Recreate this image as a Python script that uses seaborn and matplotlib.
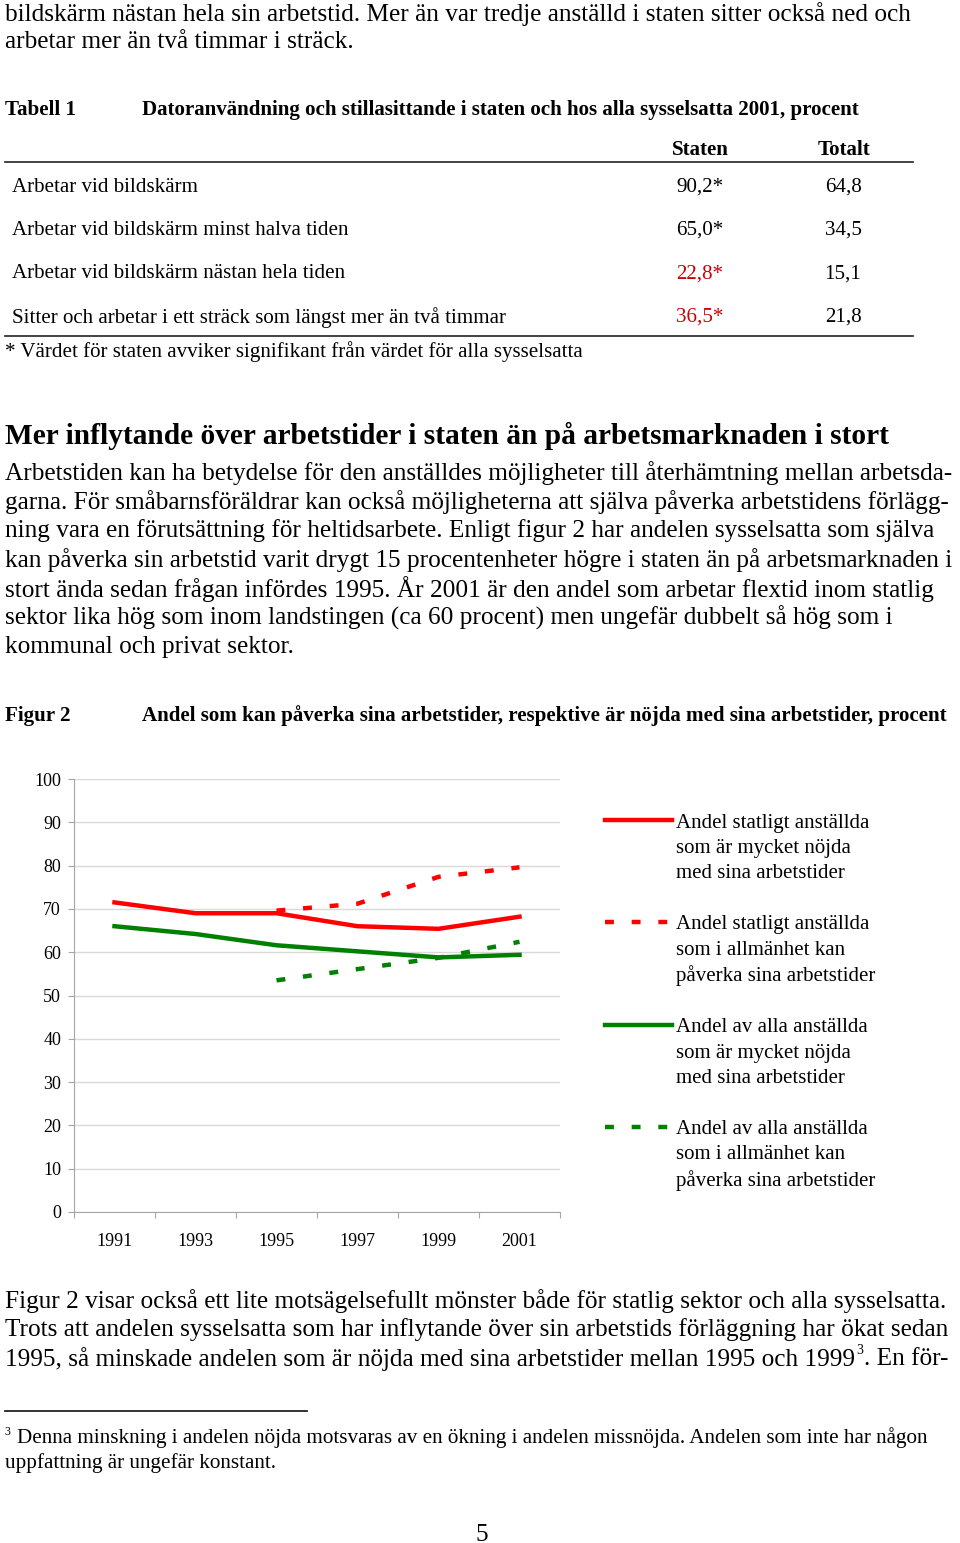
import numpy as np
import pandas as pd
import matplotlib
matplotlib.use("Agg")
import matplotlib.pyplot as plt
import seaborn as sns
from matplotlib.lines import Line2D

# figure 2 data (procent)
years = ["1991", "1993", "1995", "1997", "1999", "2001"]
staten_nojda = [71.5, 69.0, 69.0, 66.0, 65.4, 68.2]
staten_paverka = [np.nan, np.nan, 69.6, 71.2, 77.4, 79.6]
alla_nojda = [66.0, 64.2, 61.6, 60.2, 58.8, 59.4]
alla_paverka = [np.nan, np.nan, 53.5, 56.1, 58.7, 62.4]
series_names = [
    "Andel statligt anställda\nsom är mycket nöjda\nmed sina arbetstider",
    "Andel statligt anställda\nsom i allmänhet kan\npåverka sina arbetstider",
    "Andel av alla anställda\nsom är mycket nöjda\nmed sina arbetstider",
    "Andel av alla anställda\nsom i allmänhet kan\npåverka sina arbetstider",
]

# table 1 data
table_rows = ["Arbetar vid bildskärm",
              "Arbetar vid bildskärm minst halva tiden",
              "Arbetar vid bildskärm nästan hela tiden",
              "Sitter och arbetar i ett sträck som längst mer än två timmar"]
table_staten = ["90,2*", "65,0*", "22,8*", "36,5*"]
table_totalt = ["64,8", "34,5", "15,1", "21,8"]
staten_red = [False, False, True, True]

SERIF = "Liberation Serif"
plt.rcParams["font.family"] = SERIF
W, H = 960, 1543
fig = plt.figure(figsize=(W / 100, H / 100), dpi=100)
r = fig.canvas.get_renderer()

BODY = 18.2
TAB = 15.1
TITLE = 15.1
FOOT = 15.2


def put(x, y, s, size, bold=False, color="black", ha="left"):
    y = y + 2
    return fig.text(x / W, 1 - y / H, s, fontsize=size, color=color, ha=ha, va="center",
                    fontweight="bold" if bold else "normal", family=SERIF)


def rule(x0, x1, y, lw=1.2, color="#222222"):
    fig.add_artist(Line2D([x0 / W, x1 / W], [1 - y / H] * 2, transform=fig.transFigure,
                          color=color, lw=lw))


# text above table
put(5, 12, "bildskärm nästan hela sin arbetstid. Mer än var tredje anställd i staten sitter också ned och", BODY)
put(5, 40, "arbetar mer än två timmar i sträck.", BODY)

# table 1
put(5, 108, "Tabell 1", TITLE, bold=True)
put(142, 108, "Datoranvändning och stillasittande i staten och hos alla sysselsatta 2001, procent", TITLE, bold=True)
put(700, 148, "Staten", TAB, bold=True, ha="center")
put(844, 148, "Totalt", TAB, bold=True, ha="center")
rule(5, 913, 162)
for i, (lab, s, t, red) in enumerate(zip(table_rows, table_staten, table_totalt, staten_red)):
    y = 185 + i * 43.4
    put(12, y, lab, TAB)
    put(700, y, s, TAB, color="#cc0000" if red else "black", ha="center")
    put(843, y, t, TAB, ha="center")
rule(5, 913, 336)
put(5, 350, "* Värdet för staten avviker signifikant från värdet för alla sysselsatta", TAB)

# section
put(5, 434, "Mer inflytande över arbetstider i staten än på arbetsmarknaden i stort", 21.2, bold=True)
body = ["Arbetstiden kan ha betydelse för den anställdes möjligheter till återhämtning mellan arbetsda-",
        "garna. För småbarnsföräldrar kan också möjligheterna att själva påverka arbetstidens förlägg-",
        "ning vara en förutsättning för heltidsarbete. Enligt figur 2 har andelen sysselsatta som själva",
        "kan påverka sin arbetstid varit drygt 15 procentenheter högre i staten än på arbetsmarknaden i",
        "stort ända sedan frågan infördes 1995. År 2001 är den andel som arbetar flextid inom statlig",
        "sektor lika hög som inom landstingen (ca 60 procent) men ungefär dubbelt så hög som i",
        "kommunal och privat sektor."]
for i, s in enumerate(body):
    put(5, 471 + i * 29, s, BODY)

# figure 2
put(5, 714, "Figur 2", TITLE, bold=True)
put(142, 714, "Andel som kan påverka sina arbetstider, respektive är nöjda med sina arbetstider, procent", TITLE, bold=True)

ax = fig.add_axes([74 / W, 1 - 1212 / H, (560 - 74) / W, (1212 - 779) / H])
keys = ["sn", "sp", "an", "ap"]
df = pd.DataFrame({
    "pos": list(range(len(years))) * 4,
    "value": staten_nojda + staten_paverka + alla_nojda + alla_paverka,
    "serie": [k for k in keys for _ in years],
})
palette = {"sn": "#ff0000", "sp": "#ff0000", "an": "#008000", "ap": "#008000"}
dashes = {"sn": "", "sp": (2, 4), "an": "", "ap": (2, 4)}
sns.lineplot(data=df, x="pos", y="value", hue="serie", style="serie", palette=palette,
             dashes=dashes, linewidth=3.2, errorbar=None, legend=False, ax=ax)
ax.set_xlim(-0.5, 5.5)
ax.set_ylim(0, 100)
ax.set_xticks(np.arange(-0.5, 6, 1))
ax.set_xticklabels([])
ax.set_xticks(range(len(years)), minor=True)
ax.set_xticklabels(years, minor=True)
ax.set_yticks(range(0, 101, 10))
ax.tick_params(axis="x", which="major", length=4.3, color="#a6a6a6", width=0.8)
ax.tick_params(axis="x", which="minor", length=0, pad=15, labelsize=13)
ax.tick_params(axis="y", length=4.3, color="#a6a6a6", width=0.8, pad=5, labelsize=13)
ax.grid(axis="y", color="#d9d9d9", lw=1)
ax.set_axisbelow(True)
for s in ["top", "right"]:
    ax.spines[s].set_visible(False)
for s in ["left", "bottom"]:
    ax.spines[s].set_color("#a6a6a6")
    ax.spines[s].set_linewidth(0.8)
ax.set_xlabel("")
ax.set_ylabel("")

# legend, one entry per text line so the sample sits at the first line
handles, labels = [], []
for k, name in zip(keys, series_names):
    for j, part in enumerate(name.split("\n")):
        if j == 0:
            handles.append(Line2D([], [], color=palette[k], lw=3.2,
                                  dashes=dashes[k] if dashes[k] else (None, None)))
        else:
            handles.append(Line2D([], [], color="none"))
        labels.append(part)
    handles.append(Line2D([], [], color="none"))
    labels.append(" ")
handles, labels = handles[:-1], labels[:-1]
LEG = 15
fpx = LEG * 100 / 72
fig.legend(handles, labels, loc="upper left", bbox_to_anchor=(605 / W, 1 - 813 / H),
           frameon=False, fontsize=LEG, handlelength=67 / fpx, handletextpad=4 / fpx,
           borderpad=0, borderaxespad=0, labelspacing=0.28)

# text below chart
put(5, 1299, "Figur 2 visar också ett lite motsägelsefullt mönster både för statlig sektor och alla sysselsatta.", BODY)
put(5, 1328, "Trots att andelen sysselsatta som har inflytande över sin arbetstids förläggning har ökat sedan", BODY)
t = put(5, 1357, "1995, så minskade andelen som är nöjda med sina arbetstider mellan 1995 och 1999", BODY)
x_end = t.get_window_extent(r).x1
sup = put(x_end + 1, 1348, "3", 10)
put(sup.get_window_extent(r).x1 + 1, 1357, ". En för-", BODY)

rule(5, 307, 1411, lw=1.3)
put(4, 1430, "3", 8.5)
put(17, 1436, "Denna minskning i andelen nöjda motsvaras av en ökning i andelen missnöjda. Andelen som inte har någon", FOOT)
put(5, 1461, "uppfattning är ungefär konstant.", FOOT)
put(482, 1533, "5", BODY, ha="center")

fig.savefig("out.png", dpi=100)
